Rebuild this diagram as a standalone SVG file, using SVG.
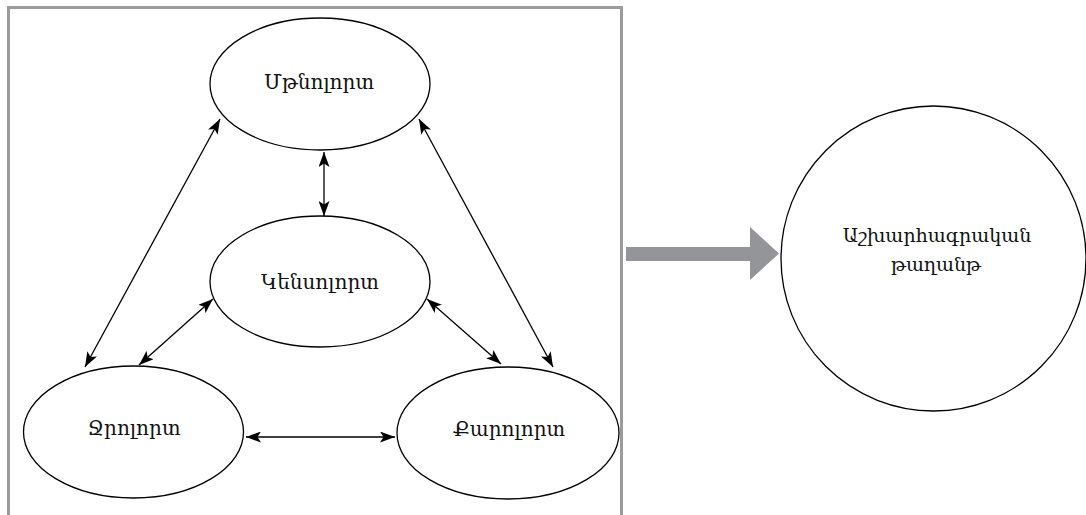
<svg xmlns="http://www.w3.org/2000/svg" width="1086" height="515" viewBox="0 0 1086 515">
<style>
.node{fill:#fff;stroke:#000;stroke-width:1.3}
.lbl{font-family:"DejaVu Serif","Noto Sans",serif;font-size:20px;fill:#111;text-anchor:middle}
.big{font-size:19px}
.con{stroke:#000;stroke-width:1.3;fill:none;marker-start:url(#ah);marker-end:url(#ah)}
</style>
<defs>
<marker id="ah" viewBox="0 0 15 11" refX="15" refY="5.5" markerWidth="15" markerHeight="11" markerUnits="userSpaceOnUse" orient="auto-start-reverse">
<path d="M0,0 L15,5.5 L0,11 L3.5,5.5 Z" fill="#000"/>
</marker>
</defs>
<rect width="1086" height="515" fill="#fff"/>
<rect id="frame" x="8.5" y="7.5" width="613" height="530" fill="none" stroke="#9a9b9e" stroke-width="3"/>
<g id="mtnolort">
<ellipse class="node" cx="320" cy="84" rx="110" ry="66"/>
<text class="lbl" x="319" y="89">Մթնոլորտ</text>
</g>
<g id="kensolort">
<ellipse class="node" cx="320" cy="281.5" rx="110" ry="65.5"/>
<text class="lbl" x="320" y="289">Կենսոլորտ</text>
</g>
<g id="jrolort">
<ellipse class="node" cx="133.5" cy="432" rx="110" ry="66"/>
<text class="lbl" x="134" y="435">Ջրոլորտ</text>
</g>
<g id="qarolort">
<ellipse class="node" cx="508" cy="433" rx="111" ry="66"/>
<text class="lbl" x="509" y="436">Քարոլորտ</text>
</g>
<g id="connectors">
<line class="con" x1="220" y1="119" x2="85" y2="367"/>
<line class="con" x1="419" y1="119" x2="553" y2="367"/>
<line class="con" x1="324" y1="152" x2="324" y2="216"/>
<line class="con" x1="213" y1="299" x2="139" y2="365"/>
<line class="con" x1="427" y1="299" x2="501" y2="364"/>
<line class="con" x1="246" y1="437" x2="395" y2="437"/>
</g>
<g id="big-arrow">
<polygon points="626,247 750,247 750,227 779,253.5 750,280 750,261 626,261" fill="#939598"/>
</g>
<g id="ashkharhagrakan">
<circle class="node" cx="933.5" cy="258.5" r="152.5"/>
<text class="lbl big" x="937" y="242">Աշխարհագրական</text>
<text class="lbl big" x="936" y="271">թաղանթ</text>
</g>
</svg>
